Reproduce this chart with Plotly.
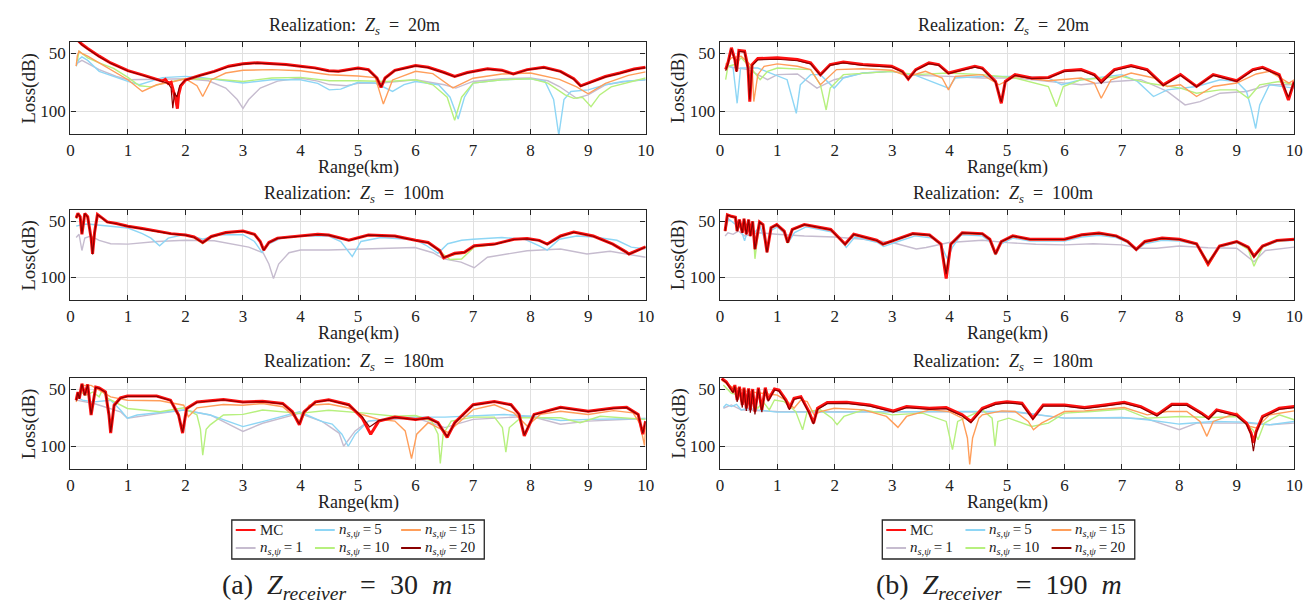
import plotly.graph_objects as go

W, H = 1312, 604

# ---------------- data: (range km, loss dB) ----------------
# Left column: Z_receiver = 30 m
L1_N1 = [(0.1,59),(0.2,56),(0.5,64),(0.8,70),(1.0,72.8),(1.5,72.5),(2.0,71.9),(2.4,73.7),(2.7,80),(2.9,90),(3.0,97.7),(3.1,90),(3.3,80),(3.6,74),(4.0,71.3),(4.3,74),(4.5,77),(4.8,78),(5.0,76),(5.4,75.7),(5.8,74),(6.0,72.8),(6.5,77.2),(6.7,80.1),(7.0,74.3),(7.5,71.9),(8.0,71.3),(8.3,73.7),(8.5,78.7),(8.8,88.9),(9.0,86),(9.3,77.2),(9.7,74),(10,72.8)]
L1_N5 = [(0.1,61),(0.15,55),(0.2,53),(0.3,56),(0.5,65.5),(0.75,70),(1.0,74.3),(1.2,77.2),(1.4,74),(1.6,71),(2.0,69.9),(2.3,71),(2.6,73),(3.0,75.7),(3.5,72.8),(4.0,72.8),(4.3,76),(4.5,81.6),(4.7,81),(5.0,75),(5.3,75.7),(5.6,83),(5.8,77),(6.0,74.3),(6.4,77.2),(6.6,88),(6.74,107),(6.85,88),(7.0,75.7),(7.5,72.8),(8.0,71.9),(8.25,74.3),(8.4,90),(8.49,121),(8.58,90),(8.7,83),(9.0,81.6),(9.3,77.2),(9.6,74.3),(10,72.8)]
L1_N10 = [(0.12,56.7),(0.15,48),(0.2,50),(0.3,53.8),(0.5,58.2),(0.75,63),(1.0,70.8),(1.2,78),(1.4,79),(1.6,76),(2.0,71.9),(2.5,72.2),(3.0,74.3),(3.5,71.3),(4.0,70.8),(4.5,73.7),(5.0,73.7),(5.5,74.3),(6.0,72.8),(6.3,77.2),(6.55,88),(6.68,108),(6.8,88),(7.0,75.7),(7.5,72.8),(8.0,71.9),(8.3,75.7),(8.6,86),(8.75,89),(8.9,88),(9.05,96.2),(9.2,86),(9.4,79),(9.7,75),(10,71.3)]
L1_N15 = [(0.1,61),(0.12,52),(0.15,48),(0.2,50),(0.3,52.3),(0.5,58.2),(0.7,63.7),(1.0,72.8),(1.25,83),(1.5,77.2),(1.8,74.3),(2.0,72),(2.2,78),(2.3,87.4),(2.45,72.8),(2.7,67),(3.0,64.6),(3.5,64),(4.0,65),(4.5,68.5),(5.0,69.5),(5.3,71),(5.44,94),(5.6,73),(6.0,65.5),(6.3,67.5),(6.65,80),(7.0,71.5),(7.5,67.8),(8.0,67),(8.5,72.5),(8.8,79),(9.0,85),(9.3,76),(9.7,69),(10,66)]
L1_MC = [(0.1,37),(0.2,42),(0.3,45.6),(0.5,52.3),(0.7,58.2),(1.0,64.9),(1.28,69),(1.5,72.8),(1.6,74),(1.65,72.5),(1.7,76),(1.75,75),(1.8,84),(1.83,90),(1.86,98),(1.88,86),(1.92,78),(2.0,73),(2.25,69),(2.5,65.5),(2.75,61),(3.0,59),(3.25,58),(3.5,58.5),(3.75,59.5),(4.0,61),(4.25,62.5),(4.49,65),(4.66,65.5),(5.0,62.6),(5.18,64),(5.33,71.3),(5.4,79.5),(5.47,71.3),(5.64,64.6),(6.0,60.5),(6.22,62),(6.5,66.5),(6.68,69.9),(6.9,66.5),(7.25,63.2),(7.5,64.5),(7.7,67.8),(7.94,64),(8.23,62),(8.52,65.5),(8.75,72),(8.87,78.1),(9.09,74.3),(9.3,70),(9.55,67),(9.8,63.5),(10,62)]
L1_N20 = [(0.1,37.5),(0.2,42.5),(0.3,46),(0.5,52.8),(0.7,58.5),(1.0,65.2),(1.28,69.3),(1.5,73),(1.6,75),(1.7,76),(1.75,80),(1.78,97.5),(1.81,84),(1.85,88),(1.9,78),(2.0,73),(2.25,69.3),(2.5,65.8),(2.75,61.5),(3.0,59.3),(3.25,58.3),(3.5,58.8),(3.75,59.8),(4.0,61.3),(4.25,62.8),(4.49,65.3),(4.66,65.8),(5.0,62.9),(5.18,64.3),(5.33,71.5),(5.4,79),(5.47,71.5),(5.64,64.9),(6.0,60.8),(6.22,62.3),(6.5,66.8),(6.68,70.2),(6.9,66.8),(7.25,63.5),(7.5,64.8),(7.7,68),(7.94,64.3),(8.23,62.3),(8.52,65.8),(8.75,72.3),(8.87,78.5),(9.09,74.6),(9.3,70.3),(9.55,67.3),(9.8,63.8),(10,62.3)]

L2_N1 = [(0.1,64.5),(0.15,61.6),(0.2,76),(0.25,65),(0.35,63.1),(0.5,67),(0.7,70),(1.0,70.3),(1.5,68),(2.0,66.9),(2.5,67.4),(2.8,70),(3.1,73),(3.35,78),(3.45,88),(3.53,100.9),(3.62,88),(3.8,78),(4.0,75.6),(4.49,75.6),(5.0,74.7),(5.99,73.3),(6.3,78),(6.49,83.4),(6.79,86.3),(7.02,91.3),(7.25,82),(7.94,76.2),(8.52,74.7),(8.98,79.1),(9.38,76.7),(10,82)]
L2_N5 = [(0.1,54.4),(0.2,53),(0.3,52.5),(0.5,53.5),(0.75,55),(1.0,56),(1.25,61),(1.4,65),(1.55,71.8),(1.7,65),(2.0,61.6),(2.3,66),(2.6,62),(3.0,62),(3.2,68),(3.33,77.6),(3.45,70),(3.7,64),(4.0,63),(4.49,63.1),(4.7,68),(4.9,81.4),(5.05,68),(5.4,64.5),(6.0,66.5),(6.2,72),(6.39,78.5),(6.56,70),(6.8,66.9),(7.0,66),(7.5,64.5),(7.9,66),(8.15,71.8),(8.29,75.6),(8.5,66),(8.8,63.1),(9.1,64),(9.5,66.9),(9.75,73),(10,74.7)]
L2_N10 = [(0.1,47.5),(0.13,43.5),(0.17,46.5),(0.2,60),(0.25,43.5),(0.3,46.5),(0.36,65),(0.385,78),(0.42,60),(0.47,44.5),(0.55,47.5),(0.64,51),(0.8,52.3),(1.0,54.6),(1.25,56.8),(1.5,59),(1.75,61.3),(2.0,62.5),(2.15,64.5),(2.3,70),(2.45,64),(2.7,60.3),(3.0,59),(3.2,62),(3.3,68),(3.36,74.5),(3.45,68.9),(3.6,65),(4.0,63.3),(4.3,61.8),(4.49,62.4),(4.84,67),(5.18,62.4),(5.64,63.3),(6.0,67),(6.22,69),(6.42,77),(6.49,80),(6.6,84),(6.8,83.5),(7.02,73),(7.37,70.5),(7.71,66.2),(7.94,65.6),(8.15,67.2),(8.29,70.5),(8.52,63.3),(8.75,59.8),(9.09,63.3),(9.43,70.5),(9.65,77),(9.71,78.5),(10,72.9)]
L2_N15 = [(0.1,47.3),(0.13,43.3),(0.17,46.3),(0.2,61),(0.25,43.3),(0.3,46.3),(0.36,65),(0.385,78.5),(0.42,60),(0.47,44.3),(0.55,47.3),(0.64,50.8),(0.8,52.2),(1.0,54.5),(1.25,56.7),(1.5,58.9),(1.75,61.2),(2.0,62.3),(2.15,64.2),(2.3,69.5),(2.45,63.8),(2.7,60.2),(3.0,58.9),(3.2,61.8),(3.3,68),(3.36,75),(3.45,68.9),(3.6,65),(4.0,63.2),(4.3,61.7),(4.49,62.3),(4.84,67),(5.18,62.3),(5.64,63.2),(6.0,67),(6.22,69),(6.42,76.5),(6.49,81.5),(6.68,79.5),(6.85,78.5),(7.02,72.5),(7.37,70.4),(7.71,66.1),(7.94,65.5),(8.15,67.1),(8.29,70.4),(8.52,63.2),(8.75,59.7),(9.09,63.2),(9.43,70.4),(9.65,77.5),(9.71,79.5),(10,72.8)]
L2_MC = [(0.1,47),(0.13,43),(0.17,46),(0.2,61.6),(0.25,43),(0.3,46),(0.36,65),(0.385,79),(0.42,60),(0.47,44),(0.55,47),(0.64,50.6),(0.8,52),(1.0,54.4),(1.25,56.5),(1.5,58.7),(1.75,61),(2.0,62.2),(2.15,64),(2.3,68.9),(2.45,63.5),(2.7,60),(3.0,58.7),(3.2,61.6),(3.3,68),(3.36,75.6),(3.45,68.9),(3.6,65),(4.0,63.1),(4.3,61.6),(4.49,62.2),(4.84,66.9),(5.18,62.2),(5.64,63.1),(6.0,66.9),(6.22,68.9),(6.42,76),(6.49,82.6),(6.68,78.5),(6.85,77.6),(7.02,71.8),(7.37,70.3),(7.71,66),(7.94,65.4),(8.15,67),(8.29,70.3),(8.52,63.1),(8.75,59.6),(9.09,63.1),(9.43,70.3),(9.65,77),(9.71,79.1),(10,72.7)]
L2_N20 = [(0.1,47.2),(0.13,43.2),(0.17,46.2),(0.2,61),(0.25,43.2),(0.3,46.2),(0.36,65.5),(0.385,79.5),(0.42,60.5),(0.47,44.2),(0.55,47.2),(0.64,50.8),(0.8,52.2),(1.0,54.6),(1.25,56.7),(1.5,58.9),(1.75,61.2),(2.0,62.4),(2.15,64.2),(2.3,69.2),(2.45,63.7),(2.7,60.2),(3.0,58.9),(3.2,61.8),(3.3,68.2),(3.36,75.8),(3.45,69),(3.6,65.2),(4.0,63.3),(4.3,61.8),(4.49,62.4),(4.84,67.1),(5.18,62.4),(5.64,63.3),(6.0,67.1),(6.22,69.1),(6.42,76.2),(6.49,82.3),(6.68,78.7),(6.85,77.8),(7.02,72),(7.37,70.5),(7.71,66.2),(7.94,65.6),(8.15,67.2),(8.29,70.5),(8.52,63.3),(8.75,59.8),(9.09,63.3),(9.43,70.5),(9.65,77.2),(9.71,79.3),(10,72.9)]

L3_N1 = [(0.1,59.5),(0.41,62.4),(0.87,69.7),(0.99,75.4),(1.56,71.1),(1.97,68.2),(2.43,72.5),(3.0,87),(3.34,79.8),(3.98,71.1),(4.38,78.3),(4.67,88.4),(4.75,100),(4.95,86.5),(5.18,77.9),(6.0,75),(6.51,83.6),(7.0,76.4),(8.0,73.6),(8.52,80.7),(9.0,77.9),(10,75.6)]
L3_N5 = [(0.1,56.6),(0.21,59.5),(0.41,61),(0.7,59.5),(0.87,68.2),(0.99,75.4),(1.16,72.5),(1.56,70.2),(1.97,68.2),(2.43,72.5),(3.0,82.7),(3.34,78.3),(3.98,69.7),(4.38,78.3),(4.55,80.5),(4.72,89.4),(4.83,100),(4.95,89.4),(5.18,77.9),(5.64,75),(6.0,74.4),(6.51,74.4),(7.0,73.6),(7.54,72.1),(8.0,73.6),(8.52,77.3),(9.0,76.4),(10,75.6)]
L3_N10 = [(0.1,55.2),(0.18,52.3),(0.27,55.2),(0.39,52.3),(0.5,56.6),(0.55,51),(0.65,58),(0.8,62),(0.99,66.8),(1.56,69.7),(1.97,66.2),(2.2,72.5),(2.26,85),(2.3,107.8),(2.36,85),(2.43,81.2),(2.66,72.5),(3.0,72),(3.34,68.2),(3.98,71.1),(4.49,68.4),(5.07,70.7),(5.64,73.6),(6.0,73),(6.28,77.9),(6.39,89.4),(6.43,115.2),(6.48,89.4),(6.62,77.9),(7.0,74.4),(7.37,74.4),(7.51,83.6),(7.57,105.2),(7.63,83.6),(7.83,75),(8.52,75),(8.86,79.3),(9.21,73.6),(9.67,75),(10,76.4)]
L3_N15 = [(0.1,61),(0.155,53.8),(0.21,46.5),(0.36,46.5),(0.5,50.9),(0.7,56.6),(0.99,59.5),(1.56,60),(1.97,63.9),(2.05,74),(2.2,66.2),(2.66,63.3),(3.0,63.9),(3.34,62.4),(3.69,65.3),(3.92,75.4),(4.0,78.3),(4.15,63.9),(4.49,62.9),(4.84,66.4),(5.07,72.1),(5.36,76.4),(5.64,77.9),(5.82,86.5),(5.93,110.9),(6.02,89.4),(6.22,79.3),(6.45,85.1),(6.56,87.9),(7.0,67.8),(7.37,63.5),(7.71,70.7),(7.94,82.2),(8.17,72),(8.52,69.3),(9.0,72.1),(9.44,68.7),(9.78,70.7),(9.9,80),(9.98,99.4),(10,83.6)]
L3_MC = [(0.1,59.5),(0.13,52.3),(0.155,58),(0.2,45),(0.25,55),(0.3,45.7),(0.36,72.5),(0.44,48),(0.5,48.8),(0.61,52.3),(0.67,72.5),(0.7,88.4),(0.76,63.9),(0.87,57.5),(0.99,55.8),(1.5,55.8),(1.74,59.5),(1.88,72.5),(1.95,88.4),(2.02,66.8),(2.2,61),(2.66,59),(3.0,61),(3.34,60.4),(3.69,62.4),(3.86,69.7),(3.98,81.2),(4.06,69.7),(4.26,61),(4.49,59.2),(4.84,63.5),(5.07,75),(5.22,89.4),(5.36,77.9),(5.64,74.4),(6.0,76.4),(6.22,75),(6.39,79.3),(6.55,92.2),(6.68,79.3),(7.0,63.5),(7.37,60.6),(7.66,63.5),(7.8,72),(7.89,90.8),(8.06,72),(8.52,65.8),(9.0,69.3),(9.44,66.4),(9.67,65.8),(9.87,72),(9.95,89.4),(10,77.9)]
L3_N20 = [(0.1,59.8),(0.13,52.6),(0.155,58.3),(0.2,45.3),(0.25,55.3),(0.3,46),(0.36,72),(0.44,48.3),(0.5,49.1),(0.61,52.6),(0.67,72),(0.7,87.5),(0.76,64.2),(0.87,57.8),(0.99,56.1),(1.5,56.1),(1.74,59.8),(1.88,72.8),(1.95,87.5),(2.02,67.1),(2.2,61.3),(2.66,59.3),(3.0,61.3),(3.34,60.7),(3.69,62.7),(3.86,70),(3.98,80.5),(4.06,70),(4.26,61.3),(4.49,59.5),(4.84,63.8),(5.07,74),(5.2,83),(5.36,77.5),(5.64,74.7),(6.0,76.7),(6.22,75.3),(6.39,79.6),(6.55,91.5),(6.68,79.6),(7.0,63.8),(7.37,60.9),(7.66,63.8),(7.8,72.3),(7.89,90),(8.06,72.3),(8.52,66.1),(9.0,69.6),(9.44,66.7),(9.67,66.1),(9.87,72.3),(9.95,88.5),(10,78.2)]

# Right column: Z_receiver = 190 m
R1_N1 = [(0.1,61.1),(0.49,64),(0.83,72.8),(1.0,68.4),(1.35,67.8),(1.69,80.1),(1.99,72.8),(2.49,67),(2.99,65.5),(3.41,69),(3.98,69.9),(4.57,71.3),(5.14,71.3),(5.72,74.3),(6.29,77.2),(6.87,74.3),(7.33,72.8),(7.79,83),(8.1,94.7),(8.36,91.8),(8.71,84.5),(9.17,83),(9.57,77.2),(10,77.2)]
R1_N5 = [(0.1,59.6),(0.23,62.6),(0.3,93.3),(0.36,62.6),(0.66,62.6),(0.95,68.4),(1.17,72.8),(1.33,102),(1.4,77.2),(1.58,68.4),(1.75,68.4),(1.99,80.1),(2.15,71.3),(2.49,67),(2.99,65.5),(3.41,69),(3.98,80.1),(4.1,71.3),(4.57,69.9),(5.14,69.9),(5.72,71.3),(5.95,77.2),(6.29,72.8),(7.0,68.4),(7.27,74.3),(7.55,87.4),(7.79,81.6),(8.3,78.7),(8.71,72.8),(9.0,74.3),(9.17,83),(9.25,97.7),(9.33,115.2),(9.4,94.7),(9.57,77.2),(10,80.1)]
R1_N10 = [(0.1,72.8),(0.14,61.1),(0.26,59.6),(0.37,53.8),(0.54,62.6),(0.7,72.8),(0.83,65.5),(1.0,62.6),(1.58,64),(1.75,77.2),(1.85,99.1),(1.92,80.1),(2.15,68.4),(2.49,67),(2.99,65.5),(3.41,68.4),(3.98,67),(4.57,68.4),(5.14,71.3),(5.72,78.7),(5.86,96.2),(5.98,78.7),(6.29,72.8),(7.0,69.9),(7.44,75.7),(8.02,80.1),(8.3,84.5),(8.71,81.6),(9.0,81.6),(9.2,88.9),(9.4,77.2),(9.74,74.3),(10,77.2)]
R1_N15 = [(0.1,59.6),(0.2,53.8),(0.37,52.3),(0.56,61.1),(0.59,91.8),(0.66,68.4),(0.77,61.1),(1.0,59),(1.35,61.1),(1.58,64),(1.75,77.2),(2.03,64),(2.49,63.2),(2.99,64.6),(3.28,69.9),(3.58,65.5),(3.87,71.3),(3.98,81.6),(4.1,69.9),(4.57,68.4),(4.86,77.2),(5.14,69.9),(5.72,73.7),(6.0,72.8),(6.29,71.3),(6.52,75.7),(6.64,88.9),(6.81,72.8),(7.16,67),(7.56,71.3),(7.79,78.7),(8.02,77.2),(8.3,87.4),(8.59,78.7),(9.0,75.7),(9.34,67.8),(9.57,65.5),(9.91,75.7),(10,72.8)]
R1_MC = [(0.1,64),(0.14,58.2),(0.2,45),(0.26,55.3),(0.29,65.5),(0.33,47.4),(0.43,48),(0.49,62.6),(0.52,91.8),(0.56,59.6),(0.66,54.4),(1.0,53.8),(1.35,55.3),(1.58,58.2),(1.75,68.4),(1.92,59.6),(2.15,57.3),(2.49,59.6),(2.99,61.1),(3.18,65.5),(3.28,72.2),(3.41,64),(3.64,58.2),(3.81,59.6),(3.98,67),(4.1,65.5),(4.44,61.1),(4.57,62.6),(4.8,74.3),(4.9,93.3),(4.97,74.3),(5.14,68.4),(5.43,71.3),(5.72,70.8),(6.0,64.9),(6.29,64),(6.52,68.4),(6.64,74.3),(6.87,64),(7.16,60.5),(7.44,64),(7.72,77.2),(8.02,68.4),(8.3,78.7),(8.59,68.4),(9.0,73.7),(9.28,64),(9.45,62),(9.74,68.4),(9.9,90.4),(10,74.3)]
R1_N20 = [(0.1,65),(0.14,59),(0.2,46),(0.26,56),(0.29,66),(0.33,48),(0.43,48.8),(0.49,63.5),(0.52,90),(0.56,60.5),(0.66,55.5),(1.0,55),(1.35,56.3),(1.58,59),(1.75,68.8),(1.92,60.3),(2.15,58.2),(2.49,60.4),(2.99,61.8),(3.18,66),(3.28,72.5),(3.41,64.6),(3.64,58.9),(3.81,60.3),(3.98,67.5),(4.1,66),(4.44,61.8),(4.57,63.3),(4.8,74.8),(4.9,92),(4.97,74.8),(5.14,69),(5.43,71.8),(5.72,71.3),(6.0,65.6),(6.29,64.8),(6.52,69),(6.64,76),(6.87,64.8),(7.16,61.3),(7.44,64.8),(7.72,77.8),(8.02,69),(8.3,79),(8.59,69),(9.0,74.2),(9.28,64.8),(9.45,62.8),(9.74,69),(9.9,88),(10,74.8)]

R2_N1 = [(0.09,63.1),(0.14,60.2),(0.23,61.6),(0.32,58.7),(0.43,63.1),(0.66,60.2),(0.99,61.6),(1.47,63.1),(1.99,64),(2.5,66),(3.0,68.9),(3.42,74.7),(3.59,73.3),(3.99,68.9),(4.57,66.9),(5.0,69),(5.5,70.5),(6.0,71),(6.5,70),(7.0,71),(7.3,74),(7.6,74),(8.0,72),(8.5,73.5),(9.0,74),(9.3,86),(9.5,76),(10,73)]
R2_N5 = [(0.1,57),(0.15,48),(0.25,52),(0.35,55),(0.43,67.4),(0.5,55),(0.6,60),(0.7,55),(0.82,72),(0.9,58),(1.0,55),(1.15,62),(1.2,68),(1.3,60),(1.5,55),(2.0,60),(2.2,73.3),(2.35,64),(2.75,69),(2.85,72.5),(3.1,68),(3.4,63),(3.7,65),(3.85,71),(3.96,83.4),(4.05,73),(4.2,62),(4.57,63),(4.7,68),(4.8,80),(4.9,70),(5.1,65),(5.4,67.5),(5.7,67.5),(6.0,67.5),(6.3,64),(6.6,62.5),(6.9,64.5),(7.1,69),(7.25,76),(7.4,70),(7.7,67),(8.0,67.5),(8.3,71),(8.5,87),(8.7,73),(9.0,69),(9.2,74),(9.3,82),(9.45,73),(9.7,68),(10,67)]
R2_N10 = [(0.1,58.5),(0.13,45),(0.2,46),(0.27,47),(0.3,58),(0.34,49),(0.39,60),(0.42,48.5),(0.46,61),(0.5,49),(0.53,63),(0.57,50.5),(0.61,83.4),(0.69,51),(0.75,53.5),(0.82,77),(0.89,56.3),(0.99,53.4),(1.12,59),(1.18,69.5),(1.26,57.8),(1.47,53.4),(1.93,57.8),(2.18,70.8),(2.33,62),(2.73,67.4),(2.84,70.8),(3.07,66.5),(3.36,61.5),(3.65,62.7),(3.85,70.8),(3.94,96),(4.02,70.8),(4.22,60.7),(4.57,61.5),(4.7,66.5),(4.8,79.5),(4.9,68.5),(5.1,63.5),(5.4,66.5),(5.7,66.5),(6.0,66.5),(6.3,62.5),(6.6,61),(6.9,63.5),(7.1,68.5),(7.25,75.5),(7.4,68.5),(7.7,65.5),(8.0,66.5),(8.3,70.5),(8.5,86),(8.7,72.5),(9.0,68.5),(9.2,75),(9.3,90),(9.45,73),(9.7,67.5),(10,66.5)]
R2_N15 = [(0.1,58.5),(0.13,44.5),(0.2,46),(0.27,47),(0.3,58.5),(0.34,48.8),(0.39,60),(0.42,48),(0.46,61.5),(0.5,48.8),(0.53,63),(0.57,50.3),(0.61,74),(0.69,51),(0.75,53.2),(0.82,77),(0.89,56),(0.99,53.2),(1.12,59),(1.18,69),(1.26,57.5),(1.47,53.2),(1.93,57.5),(2.18,70.5),(2.33,61.8),(2.73,67.2),(2.84,70.5),(3.07,66.3),(3.36,61.3),(3.65,62.5),(3.85,70.5),(3.94,97),(4.02,70.5),(4.22,60.5),(4.57,61.3),(4.7,66.3),(4.8,79.3),(4.9,68.3),(5.1,63.3),(5.4,66.3),(5.7,66.3),(6.0,66.3),(6.3,62.3),(6.6,60.8),(6.9,63.3),(7.1,68.3),(7.25,75.3),(7.4,68.3),(7.7,65.3),(8.0,66.3),(8.3,70.3),(8.5,90),(8.7,72.3),(9.0,68.3),(9.2,73.3),(9.3,82),(9.45,72.3),(9.7,67.3),(10,66.3)]
R2_MC = [(0.09,58.7),(0.13,44.2),(0.2,45.6),(0.27,46.5),(0.3,58.7),(0.34,48.5),(0.39,60.2),(0.42,47.7),(0.46,61.6),(0.5,48.5),(0.53,63.1),(0.57,50),(0.61,74.7),(0.69,50.6),(0.75,52.9),(0.82,77.6),(0.89,55.8),(0.99,52.9),(1.12,58.7),(1.18,68.9),(1.26,57.3),(1.47,52.9),(1.93,57.3),(2.18,70.3),(2.33,61.6),(2.73,66.9),(2.84,70.3),(3.07,66),(3.36,61),(3.65,62.2),(3.85,70.3),(3.94,100.9),(4.02,70.3),(4.22,60.2),(4.57,61),(4.7,66),(4.8,79),(4.9,68),(5.1,63),(5.4,66),(5.7,66),(6.0,66),(6.3,62),(6.6,60.5),(6.9,63),(7.1,68),(7.25,75),(7.4,68),(7.7,65),(8.0,66),(8.3,70),(8.5,88),(8.7,72),(9.0,68),(9.2,73),(9.3,81),(9.45,72),(9.7,67),(10,66)]
R2_N20 = [(0.09,58.9),(0.13,44.5),(0.2,45.8),(0.27,46.7),(0.3,58.9),(0.34,48.7),(0.39,60.4),(0.42,47.9),(0.46,61.8),(0.5,48.7),(0.53,63.3),(0.57,50.2),(0.61,75),(0.69,50.8),(0.75,53.1),(0.82,77.8),(0.89,56),(0.99,53.1),(1.12,58.9),(1.18,69.1),(1.26,57.5),(1.47,53.1),(1.93,57.5),(2.18,70.5),(2.33,61.8),(2.73,67.1),(2.84,70.5),(3.07,66.2),(3.36,61.2),(3.65,62.4),(3.85,70.5),(3.94,97),(4.02,70.5),(4.22,60.4),(4.57,61.2),(4.7,66.2),(4.8,79.2),(4.9,68.2),(5.1,63.2),(5.4,66.2),(5.7,66.2),(6.0,66.2),(6.3,62.2),(6.6,60.7),(6.9,63.2),(7.1,68.2),(7.25,75.2),(7.4,68.2),(7.7,65.2),(8.0,66.2),(8.3,70.2),(8.5,87.5),(8.7,72.2),(9.0,68.2),(9.2,73.2),(9.3,81.5),(9.45,72.2),(9.7,67.2),(10,66.2)]

R3_N1 = [(0.06,66.6),(0.2,63.7),(0.37,68),(0.99,69.5),(2.0,69.7),(3.0,69.5),(4.0,69.8),(4.57,70),(5.14,70),(6.0,75.3),(7.0,75),(7.44,75.9),(8.0,85.5),(8.3,79.7),(9.17,79.7),(9.57,81.1),(10,79.7)]
R3_N5 = [(0.06,66),(0.11,63.1),(0.2,65.1),(0.29,63.1),(0.37,68),(0.49,66.6),(0.66,68),(0.99,70),(1.99,70),(3.0,69.5),(3.99,69.5),(4.57,69.5),(5.14,69.5),(6.0,75.3),(7.0,74.7),(7.44,76.7),(8.0,80.5),(8.59,78.2),(9.17,78.8),(9.57,81.1),(10,78.2)]
R3_N10 = [(0.06,46.2),(0.2,53.5),(0.37,55),(0.55,59.3),(0.66,66.6),(0.75,60.8),(0.86,68),(0.95,59.3),(1.12,60.8),(1.32,69.5),(1.44,85.5),(1.52,69.5),(1.75,68),(1.95,75.3),(2.04,81.1),(2.16,73.8),(2.5,68),(3.0,72.4),(3.53,70.9),(3.94,78.2),(4.05,102.9),(4.14,78.2),(4.57,68),(4.74,75.3),(4.79,100),(4.84,78.2),(5.03,75.3),(5.43,82.6),(5.72,79.7),(6.0,70.9),(6.47,69.5),(7.04,67.2),(7.44,75.3),(8.02,73.8),(8.59,74.7),(9.0,73.8),(9.28,85.5),(9.37,94.2),(9.48,79.7),(9.74,72.4),(10,76.7)]
R3_N15 = [(0.03,41.9),(0.2,47.7),(0.49,52),(0.78,53.5),(1.0,55),(1.18,60.8),(1.29,66.6),(1.41,59.3),(1.52,60.8),(1.64,72.4),(1.75,69.5),(1.99,66.6),(2.5,68),(2.9,73.8),(3.1,83.4),(3.25,73.8),(3.65,68),(3.99,69.5),(4.22,75.3),(4.31,92.7),(4.35,116),(4.4,92.7),(4.51,75.3),(4.57,72.4),(4.91,68.9),(5.14,69.5),(5.37,78.2),(5.46,85.5),(5.6,79.7),(6.0,69.5),(6.35,68.9),(7.04,66),(7.44,72.4),(7.79,69.5),(8.13,69.5),(8.36,78.2),(8.48,91.3),(8.59,78.2),(9.0,70.9),(9.23,82.6),(9.34,84),(9.57,72.4),(10,68.9)]
R3_MC = [(0.03,40.4),(0.11,43.3),(0.17,47.7),(0.23,52),(0.26,46.2),(0.3,59.3),(0.34,47.7),(0.39,63.7),(0.42,48.5),(0.46,66.6),(0.5,49.1),(0.53,68),(0.57,49.7),(0.61,69.5),(0.67,48.5),(0.73,68),(0.79,48.5),(0.84,59.3),(0.95,49.7),(1.03,50.6),(1.15,59.3),(1.21,66.6),(1.29,57.8),(1.41,56.4),(1.55,69.5),(1.63,79.7),(1.7,66.6),(1.87,61.6),(2.21,61.3),(2.61,63.7),(3.02,68.9),(3.25,65.1),(3.65,66.6),(3.94,66),(4.22,72.4),(4.37,78.2),(4.57,66.6),(4.8,62.2),(5.0,60.8),(5.26,62.2),(5.45,75.3),(5.63,63.7),(6.0,63.7),(6.35,66),(6.7,63.7),(7.04,61.3),(7.33,65.1),(7.61,72.4),(7.87,63.1),(8.13,63.1),(8.39,70.9),(8.51,75.3),(8.65,68),(9.0,72.4),(9.17,79.7),(9.25,88.4),(9.29,97),(9.34,86.9),(9.45,73.8),(9.74,66.6),(10,65.1)]
R3_N20 = [(0.03,41),(0.11,44),(0.17,48.5),(0.23,53),(0.26,47.5),(0.3,61),(0.34,48.5),(0.39,66),(0.42,49.5),(0.46,69),(0.5,50),(0.53,70.5),(0.57,50.5),(0.61,72),(0.67,49.5),(0.73,70),(0.79,49.5),(0.84,60.5),(0.95,50.5),(1.03,51.5),(1.15,60.5),(1.21,68),(1.29,58.8),(1.41,57.4),(1.55,70.5),(1.63,80.5),(1.7,67.6),(1.87,62.6),(2.21,62.3),(2.61,64.7),(3.02,69.9),(3.25,66.1),(3.65,67.6),(3.94,67),(4.22,73.4),(4.37,79.2),(4.57,67.6),(4.8,63.2),(5.0,61.8),(5.26,63.2),(5.45,76.3),(5.63,64.7),(6.0,64.7),(6.35,67),(6.7,64.7),(7.04,62.3),(7.33,66.1),(7.61,73.4),(7.87,64.1),(8.13,64.1),(8.39,71.9),(8.51,76.3),(8.65,69),(9.0,73.4),(9.17,80.7),(9.25,90),(9.29,104.4),(9.34,88),(9.45,74.8),(9.74,67.6),(10,66.1)]

SOURCE_DEPTHS = ["20", "100", "180"]
RECEIVER_DEPTHS = ["30", "190"]
X_TICKS = [0, 1, 2, 3, 4, 5, 6, 7, 8, 9, 10]
Y_TICKS = [50, 100]
SERIES_NAMES = ["MC", "1", "5", "10", "15", "20"]

# ---------------- styling ----------------
FONT = "Liberation Serif"
COLORS = {"N1": "#C6BCCF", "N5": "#8ED6F5", "N10": "#B7F07E", "N15": "#FF9E5A",
          "MC": "#FF1010", "N20": "#8A0000"}
WIDTHS = {"N1": 1.4, "N5": 1.4, "N10": 1.4, "N15": 1.4, "MC": 3.0, "N20": 1.2}
ORDER = ["N1", "N5", "N10", "N15", "MC", "N20"]
SP = "\u2002"   # en space (not collapsed)
TSP = "\u2009"  # thin space

PANELS = [
    {"N1": L1_N1, "N5": L1_N5, "N10": L1_N10, "N15": L1_N15, "MC": L1_MC, "N20": L1_N20},
    {"N1": L2_N1, "N5": L2_N5, "N10": L2_N10, "N15": L2_N15, "MC": L2_MC, "N20": L2_N20},
    {"N1": L3_N1, "N5": L3_N5, "N10": L3_N10, "N15": L3_N15, "MC": L3_MC, "N20": L3_N20},
    {"N1": R1_N1, "N5": R1_N5, "N10": R1_N10, "N15": R1_N15, "MC": R1_MC, "N20": R1_N20},
    {"N1": R2_N1, "N5": R2_N5, "N10": R2_N10, "N15": R2_N15, "MC": R2_MC, "N20": R2_N20},
    {"N1": R3_N1, "N5": R3_N5, "N10": R3_N10, "N15": R3_N15, "MC": R3_MC, "N20": R3_N20},
]

# pixel geometry
COL_X = [(59, 640), (715, 1295)]
ROW_Y = [(34, 126), (202, 292), (370, 461)]

def fx(p):
    return p / W

def fy(p):
    return 1 - p / H

fig = go.Figure()
layout = dict(width=W, height=H, margin=dict(l=0, r=0, t=0, b=0),
              paper_bgcolor="white", plot_bgcolor="white", showlegend=False,
              font=dict(family=FONT, size=15, color="#222"))
annotations = []
shapes = []

for i, panel in enumerate(PANELS):
    col, row = divmod(i, 3)
    n = i + 1
    xa = "x" if n == 1 else f"x{n}"
    ya = "y" if n == 1 else f"y{n}"
    for key in ORDER:
        pts = panel[key]
        fig.add_trace(go.Scatter(
            x=[p[0] for p in pts], y=[p[1] for p in pts], mode="lines",
            line=dict(color=COLORS[key], width=WIDTHS[key]),
            xaxis=xa, yaxis=ya, hoverinfo="skip"))
    x0, x1 = COL_X[col]
    y0, y1 = ROW_Y[row]
    axcommon = dict(showline=True, linecolor="#262626", linewidth=1.4, mirror="ticks",
                    ticks="inside", ticklen=5, tickwidth=1.3, tickcolor="#262626",
                    showgrid=True, gridcolor="#E0E0E0", gridwidth=1, zeroline=False,
                    tickfont=dict(family=FONT, size=17, color="#222"))
    layout[f"xaxis{'' if n == 1 else n}"] = dict(
        axcommon, domain=[fx(x0), fx(x1)], anchor=ya, range=[0, 10],
        tickvals=X_TICKS, ticktext=[str(t) for t in X_TICKS])
    layout[f"yaxis{'' if n == 1 else n}"] = dict(
        axcommon, domain=[fy(y1), fy(y0)], anchor=xa, range=[120, 40],
        tickvals=Y_TICKS, ticktext=[str(t) for t in Y_TICKS])
    cx = (x0 + x1) / 2
    annotations.append(dict(
        text=f"Realization:{SP}<i>Z<sub>s</sub></i>{SP}={SP}{SOURCE_DEPTHS[row]}m",
        x=fx(cx - 4), y=fy(y0 - 16), xref="paper", yref="paper",
        xanchor="center", yanchor="middle", showarrow=False,
        font=dict(family=FONT, size=18, color="#222")))
    annotations.append(dict(
        text="Range(km)", x=fx(cx), y=fy(y1 + 33), xref="paper", yref="paper",
        xanchor="center", yanchor="middle", showarrow=False,
        font=dict(family=FONT, size=18, color="#222")))
    annotations.append(dict(
        text="Loss(dB)", x=fx(x0 - 42), y=fy((y0 + y1) / 2), xref="paper", yref="paper",
        xanchor="center", yanchor="middle", showarrow=False, textangle=-90,
        font=dict(family=FONT, size=19, color="#222")))

# manual legends (one per column) and captions
LEG_ROWS = [["MC", "N5", "N15"], ["N1", "N10", "N20"]]
LABELS = {k: ("MC" if k == "MC" else f"<i>n</i><sub><i>s,ψ</i></sub>{TSP}={TSP}{v}")
          for k, v in zip(["MC", "N1", "N5", "N10", "N15", "N20"], SERIES_NAMES)}
for col, shift in enumerate([0, 657]):
    bx0, bx1, by0, by1 = 222 + shift, 477 + shift, 512, 551
    shapes.append(dict(type="rect", xref="paper", yref="paper",
                       x0=fx(bx0), x1=fx(bx1), y0=fy(by1), y1=fy(by0),
                       line=dict(color="#262626", width=1.3), fillcolor="white"))
    colx = [226 + shift, 306 + shift, 393 + shift]
    rowy = [522, 540]
    for r, keys in enumerate(LEG_ROWS):
        for c, key in enumerate(keys):
            lx = colx[c]
            ly = rowy[r]
            shapes.append(dict(type="line", xref="paper", yref="paper",
                               x0=fx(lx), x1=fx(lx + 20), y0=fy(ly), y1=fy(ly),
                               line=dict(color=COLORS[key], width=2)))
            annotations.append(dict(text=LABELS[key], x=fx(lx + 22), y=fy(ly),
                                    xref="paper", yref="paper", xanchor="left",
                                    yanchor="middle", showarrow=False,
                                    font=dict(family=FONT, size=15, color="#222")))
    cap_letter = "ab"[col]
    cap_x = [328, 997][col]
    annotations.append(dict(
        text=f"({cap_letter}){SP}<i>Z<sub>receiver</sub></i>{SP}={SP}{RECEIVER_DEPTHS[col]}{SP}<i>m</i>",
        x=fx(cap_x), y=fy(578), xref="paper", yref="paper", xanchor="center",
        yanchor="middle", showarrow=False, font=dict(family=FONT, size=28, color="#222")))

layout["annotations"] = annotations
layout["shapes"] = shapes
fig.update_layout(**layout)
fig.write_html("out.html")
